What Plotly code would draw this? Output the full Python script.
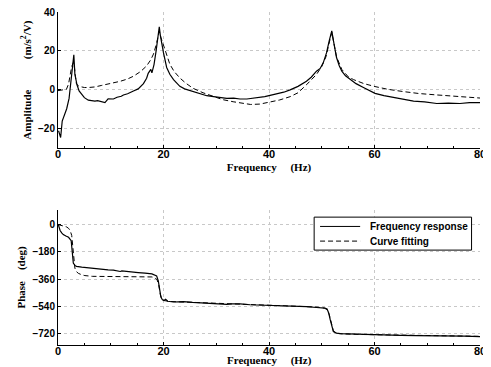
import plotly.graph_objects as go

# ---------------- data ----------------
amp_meas_f = [0.1, 0.3, 0.5, 0.8, 1.2, 1.65, 2.1, 2.5, 2.8, 3.0, 3.2, 3.6, 4.0, 4.5, 5.0, 5.75, 6.3, 7.0, 7.5,
              8.0, 8.5, 8.9, 9.5, 9.9, 10.5, 11.2, 12.0, 12.4, 13.2, 14.3, 15.2, 16.2, 16.8, 17.1, 17.4, 17.6,
              17.8, 18.2, 18.6, 19.0, 19.2, 19.4, 19.7, 20.0, 20.6, 21.2, 21.9, 22.5, 23.1, 24.0, 25.0, 25.6,
              26.9, 28.2, 29.5, 30.7, 32.0, 33.3, 34.5, 35.8, 37.0, 38.3, 39.2, 40.2, 41.5, 42.8, 44.0, 45.5,
              47.1, 48.0, 49.0, 49.7, 50.3, 50.9, 51.4, 51.9, 52.3, 52.8, 53.3, 53.8, 54.5, 55.4, 56.5, 57.9,
              59.0, 60.1, 61.8, 63.6, 65.5, 67.4, 69.5, 71.8, 74.0, 76.2, 78.0, 80.0]
amp_meas = [-21, -23, -24.5, -16, -13, -9.7, -4.4, 6, 14, 18, 8, 2.6, -0.5, -2.6, -4, -5.3, -5.6, -5.8, -5.5,
            -5.8, -6.3, -6.5, -4.6, -4.6, -4.7, -3.8, -3.3, -2.6, -2.0, -0.6, 0.5, 3.2, 6, 8.5, 10, 10.5,
            8.7, 13, 20, 28, 32.4, 28, 23, 19, 11.5, 8, 5.3, 3.5, 1.8, 0.5, -0.3, -0.9,
            -1.8, -3, -3.5, -4, -4.4, -4.2, -4.7, -4.7, -4.3, -4, -3.5, -2.8, -2, -1.2, 0, 1.8,
            4.4, 6.5, 9.6, 11, 14, 19, 25, 30.3, 24, 16.6, 12.5, 9.6, 7.2, 5.3, 3.2, 1.2,
            -0.5, -1.8, -3, -4, -4.8, -5.8, -6.2, -7, -6.8, -7, -6.6, -6.6]

amp_fit_f = [0, 1.0, 1.6, 2.0, 2.3, 2.6, 2.9, 3.1, 3.3, 3.5, 4.0, 5.0, 5.75, 7.0, 8.3, 10.5, 11.8, 13.2, 14.3,
             15.7, 16.8, 17.6, 18.1, 18.6, 19.0, 19.2, 19.5, 20.3, 21.2, 22.0, 23.1, 24.2, 25.6, 27.5, 29.4,
             31.2, 33.2, 35.0, 36.5, 38.3, 40.2, 42.0, 44.0, 45.5, 47.1, 48.2, 49.0, 50.0, 50.8, 51.4, 51.9,
             52.3, 52.8, 53.8, 55.0, 56.0, 58.0, 60.1, 62.5, 65.5, 68.5, 71.8, 75.0, 78.0, 80.0]
amp_fit = [-0.4, -0.2, 0.3, 3, 7, 12, 14, 12, 7, 3, 1.8, 1.2, 1.2, 1.5, 2.3, 3.5, 4.4, 5.6, 7,
           9.5, 12.3, 15.5, 18.4, 23, 29, 30, 27, 20.2, 13.2, 9.5, 6.1, 3.5, 0.8, -1.5, -3.5,
           -5, -6.1, -7, -7.5, -7.3, -6.3, -5.2, -3.5, -1.5, 2.6, 5.5, 7.9, 12, 17, 24, 29.5,
           24, 17, 10.5, 6.8, 5.3, 3.2, 1.7, 0.3, -0.9, -1.9, -2.6, -3.3, -3.9, -4.2]

ph_meas_f = [0.05, 0.2, 0.4, 0.7, 1.0, 1.5, 2.0, 2.5, 2.7, 2.9, 3.2, 3.5, 4.5, 5.5, 7.0, 8.0, 9.5, 10.5, 11.8,
             12.1, 13.5, 15.2, 16.5, 17.8, 18.7, 19.0, 19.2, 19.5, 19.8, 20.1, 20.4, 20.8, 21.9, 23.8, 25.5,
             26.9, 28.5, 30.1, 32.0, 33.0, 34.5, 36.4, 38.5, 40.2, 42.7, 45.0, 47.1, 49.0, 50.6, 51.0, 51.3,
             51.6, 51.9, 52.2, 52.8, 53.5, 56.6, 59.8, 61.7, 65.0, 68.0, 71.0, 74.3, 77.0, 80.0]
ph_meas = [0, -20, -39, -55, -66, -76, -84, -106, -174, -253, -269, -275, -280, -284, -291, -291, -298, -300, -309,
           -305, -312, -316, -320, -325, -338, -370, -411, -478, -495, -500, -492, -505, -510, -507, -512,
           -515, -517, -519, -526, -522, -522, -528, -530, -530, -536, -537, -540, -546, -550, -556, -580,
           -625, -670, -705, -715, -718, -722, -726, -727, -729, -731, -731, -733, -735, -738]

ph_fit_f = [0, 0.7, 1.65, 2.0, 2.3, 2.6, 2.75, 2.9, 3.05, 3.2, 3.5, 3.85, 4.5, 5.1, 6.5, 8.9, 12, 15.2, 17.8,
            18.4, 18.8, 19.1, 19.4, 19.7, 20.1, 21, 23, 26, 30, 35, 40, 45, 49, 50.5, 51.0, 51.4, 51.8,
            52.2, 52.8, 54, 58, 63, 68, 74, 80]
ph_fit = [0, -5, -16, -25, -39, -72, -130, -196, -250, -287, -310, -321, -331, -336, -341, -343, -344, -344, -345,
          -350, -365, -400, -460, -490, -500, -506, -509, -513, -518, -525, -532, -538, -543, -550, -560, -590, -650,
          -700, -716, -720, -724, -727, -730, -733, -736]

x_ticks = [0, 20, 40, 60, 80]
amp_ticks = [-20, 0, 20, 40]
ph_ticks = [0, -180, -360, -540, -720]
legend_names = ["Frequency response", "Curve fitting"]

# ---------------- figure ----------------
SANS = "Liberation Sans"
SERIF = "Liberation Serif"
NB = "\u00a0"
FREQ_TITLE = "Frequency" + NB * 5 + "(Hz)"

fig = go.Figure()
fig.add_trace(go.Scatter(x=amp_meas_f, y=amp_meas, mode="lines", line=dict(color="black", width=1.2),
                         xaxis="x", yaxis="y", name=legend_names[0], showlegend=False))
fig.add_trace(go.Scatter(x=amp_fit_f, y=amp_fit, mode="lines", line=dict(color="black", width=1, dash="5px,3px"),
                         xaxis="x", yaxis="y", name=legend_names[1], showlegend=False))
fig.add_trace(go.Scatter(x=ph_meas_f, y=ph_meas, mode="lines", line=dict(color="black", width=1.2),
                         xaxis="x2", yaxis="y2", name=legend_names[0], showlegend=False))
fig.add_trace(go.Scatter(x=ph_fit_f, y=ph_fit, mode="lines", line=dict(color="black", width=1, dash="5px,3px"),
                         xaxis="x2", yaxis="y2", name=legend_names[1], showlegend=False))

xtickfont = dict(family=SANS, size=11, color="black", weight="bold")
ytickfont = dict(family=SANS, size=10, color="black", weight="bold")
titlefont = dict(family=SERIF, size=11, color="black", weight="bold")

common_x = dict(range=[0, 80], tickvals=x_ticks, showline=True, linecolor="black", linewidth=1,
                ticks="inside", ticklen=3, tickcolor="black", tickfont=xtickfont,
                ticklabelstandoff=-4, ticklabeloverflow="allow",
                showgrid=True, gridcolor="#c8c8c8", griddash="dot", gridwidth=1, zeroline=False,
                minor=dict(dtick=5, tick0=0, ticks="inside", ticklen=2, tickcolor="black", showgrid=False),
                automargin=False)
common_y = dict(showline=True, linecolor="black", linewidth=1, ticks="inside", ticklen=3, tickcolor="black",
                tickfont=ytickfont, ticklabeloverflow="allow",
                showgrid=True, gridcolor="#c8c8c8", griddash="dot", gridwidth=1,
                zeroline=False, automargin=False)

# The page body has an 8px margin; the figure is sized so the plot areas land where the reference has them.
fig.update_layout(
    width=483, height=359,
    margin=dict(l=50, r=11, t=4, b=22),
    paper_bgcolor="white", plot_bgcolor="white",
    showlegend=False,
    xaxis=dict(domain=[0, 1], anchor="y",
               title=dict(text=FREQ_TITLE, font=titlefont, standoff=3), **common_x),
    yaxis=dict(domain=[0.5908, 1], anchor="x", range=[-30, 40], tickvals=amp_ticks,
               title=dict(text="Amplitude" + NB * 11 + "(m/s<sup>2</sup>/V)", font=titlefont, standoff=4),
               **common_y),
    xaxis2=dict(domain=[0, 1], anchor="y2", **common_x),
    yaxis2=dict(domain=[0, 0.406], anchor="x2", range=[-793, 97], tickvals=ph_ticks,
                title=dict(text="Phase" + NB * 4 + "(deg)", font=titlefont, standoff=4), **common_y),
)

# bottom x-axis title (sits at the lower page edge, like the reference)
fig.add_annotation(xref="x2 domain", yref="paper", x=0.5, y=-0.047, xanchor="center", yanchor="middle",
                   text=FREQ_TITLE, showarrow=False, font=titlefont)

# legend box drawn in paper coordinates (compact, like the reference)
lx0, lx1, ly0, ly1 = 0.607, 0.98, 0.285, 0.384
fig.add_shape(type="rect", xref="paper", yref="paper", x0=lx0, x1=lx1, y0=ly0, y1=ly1,
              line=dict(color="black", width=1), fillcolor="white", layer="above")
row_y = [0.356, 0.312]
styles = ["solid", "5px,3px"]
for name, yy, st in zip(legend_names, row_y, styles):
    fig.add_shape(type="line", xref="paper", yref="paper", x0=0.621, x1=0.716, y0=yy, y1=yy,
                  line=dict(color="black", width=1, dash=st), layer="above")
    fig.add_annotation(xref="paper", yref="paper", x=0.735, y=yy, xanchor="left", yanchor="middle",
                       text=name, showarrow=False,
                       font=dict(family=SANS, size=10, color="black", weight="bold"))

fig.write_html("out.html")
